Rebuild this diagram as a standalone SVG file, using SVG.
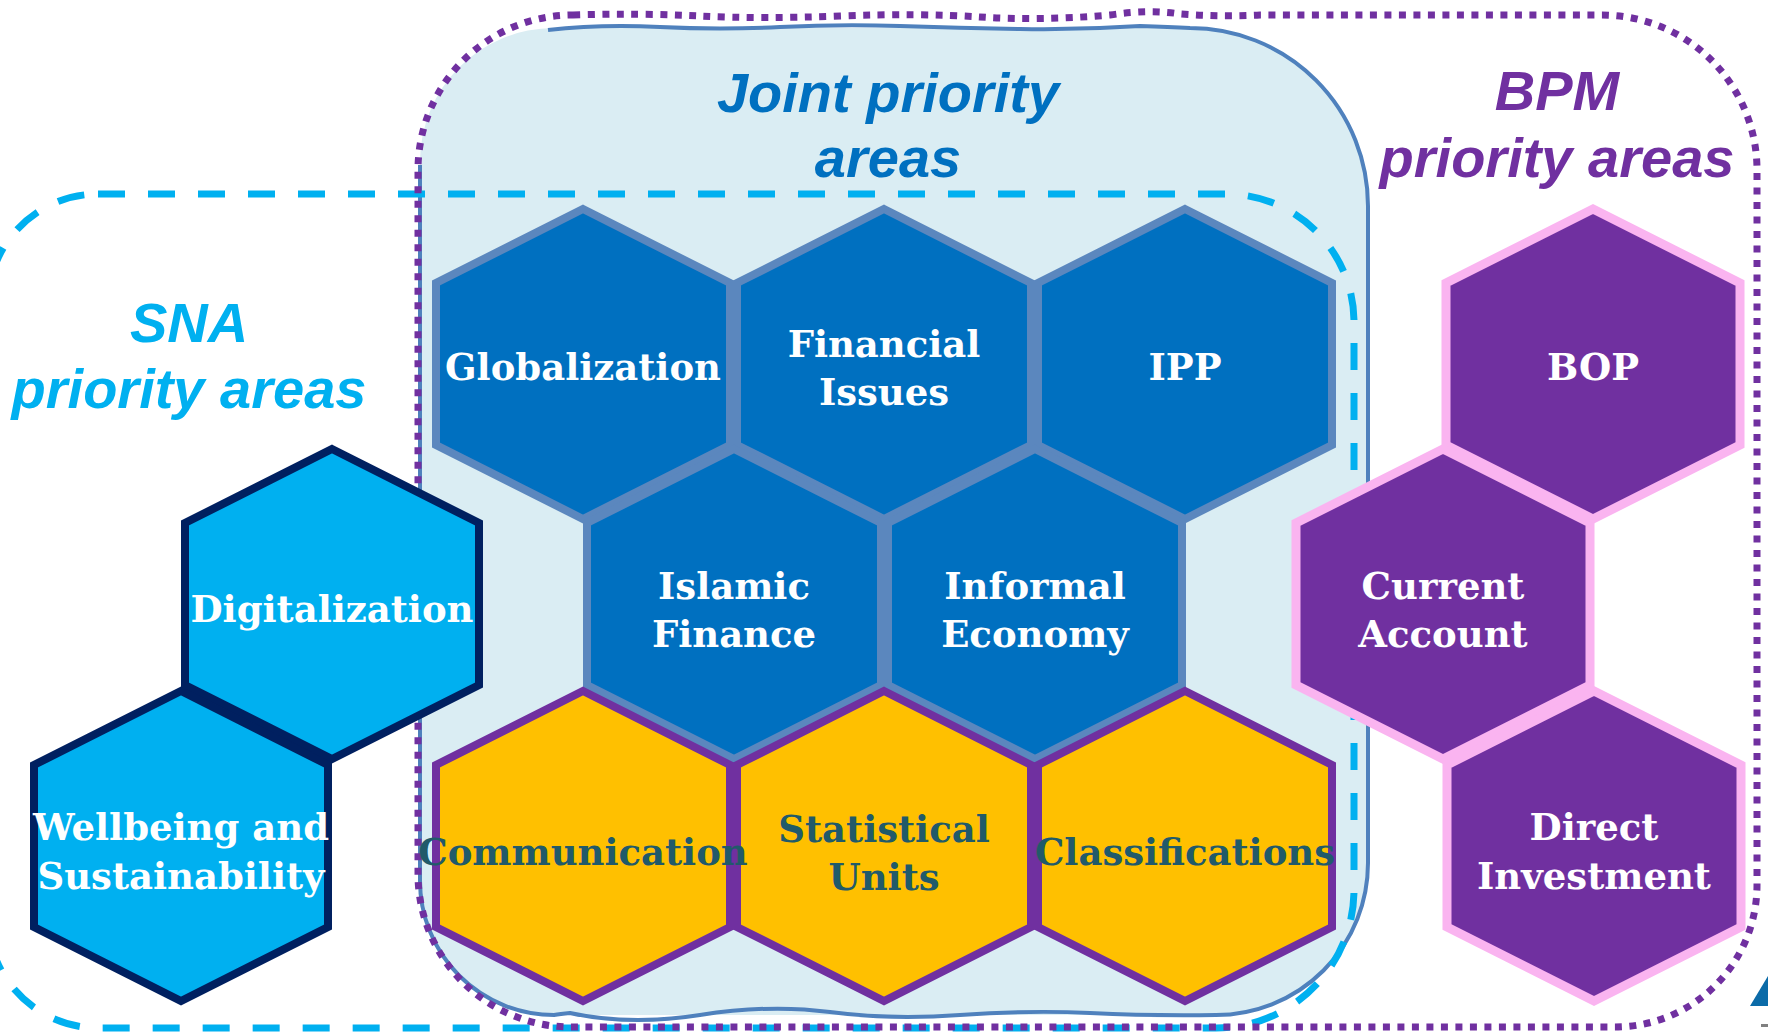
<svg xmlns="http://www.w3.org/2000/svg" xmlns:xlink="http://www.w3.org/1999/xlink" width="1768" height="1034" viewBox="0 0 1768 1034">
  <style>
    .title { font-family: "Liberation Sans", Arial, sans-serif; font-weight: bold; font-style: italic; font-size: 56px; text-anchor: middle; }
    .t-joint { fill: #0070C0; }
    .t-sna { fill: #00B0F0; }
    .t-bpm { fill: #7030A0; }
    .lbl { font-family: "DejaVu Serif", "Liberation Serif", serif; font-weight: bold; font-size: 37px; text-anchor: middle; fill: #FFFFFF; }
    .lbl-dark { fill: #215A6A; }
    .hx { stroke-linejoin: miter; }
    .h-joint { fill: #0070C0; stroke: #5B87BE; stroke-width: 8; }
    .h-yellow { fill: #FFC000; stroke: #7030A0; stroke-width: 8; }
    .h-sna { fill: #00B0F0; stroke: #002060; stroke-width: 8; }
    .h-bpm { fill: #7030A0; stroke: #FAB4F0; stroke-width: 9; }
  </style>
  <defs>
    <polygon id="hex" points="0,-155 147,-81 147,81 0,155 -147,81 -147,-81"/>
  </defs>

  <rect x="0" y="0" width="1768" height="1034" fill="#FFFFFF"/>

  <!-- Region outlines -->
  <g id="regions">
    <g id="joint-region">
      <path d="M 554,28 H 1190 A 178 178 0 0 1 1368,206 V 863 A 152 152 0 0 1 1216,1015 H 554 A 134 134 0 0 1 420,881 V 162 A 134 134 0 0 1 554,28 Z" fill="#DAEDF3"/>
      <path d="M 548,30 Q 600,24 660,27 T 780,27 T 900,26 T 1020,29 T 1140,26 Q 1170,27 1190,28 A 178 178 0 0 1 1368,206 V 863 A 152 152 0 0 1 1216,1015 Q 1150,1016 1090,1013 T 960,1015 T 830,1012 T 700,1015 T 570,1013 Q 560,1014 554,1015 A 134 134 0 0 1 420,881 V 165" fill="none" stroke="#4F81BD" stroke-width="4"/>
    </g>
    <path id="sna-region" d="M 98,194 H 1226 A 128 128 0 0 1 1354,322 V 890 A 138 138 0 0 1 1216,1028 H 98 A 110 110 0 0 1 -12,918 V 304 A 110 110 0 0 1 98,194 Z" fill="none" stroke="#00B0F0" stroke-width="7" stroke-dasharray="27 23"/>
    <path id="bpm-region" d="M 573,15 Q 640,13 700,16 T 840,16 T 980,17 T 1110,15 Q 1150,9 1180,14 Q 1220,17 1260,15 H 1602 A 155 155 0 0 1 1757,170 V 885 A 142 142 0 0 1 1615,1027 H 571 A 153 153 0 0 1 418,874 V 170 A 155 155 0 0 1 573,15 Z" fill="none" stroke="#7030A0" stroke-width="7" stroke-dasharray="7 7.5"/>
  </g>

  <g id="connectors"></g>

  <!-- Joint hexagons -->
  <g id="globalization"><use xlink:href="#hex" href="#hex" x="583" y="364" class="hx h-joint"/><text class="lbl" x="583" y="380">Globalization</text></g>
  <g id="financial-issues"><use xlink:href="#hex" href="#hex" x="884" y="364" class="hx h-joint"/><text class="lbl" x="884" y="357">Financial</text><text class="lbl" x="884" y="405">Issues</text></g>
  <g id="ipp"><use xlink:href="#hex" href="#hex" x="1185" y="364" class="hx h-joint"/><text class="lbl" x="1185" y="380">IPP</text></g>
  <g id="islamic-finance"><use xlink:href="#hex" href="#hex" x="734" y="604" class="hx h-joint"/><text class="lbl" x="734" y="599">Islamic</text><text class="lbl" x="734" y="647">Finance</text></g>
  <g id="informal-economy"><use xlink:href="#hex" href="#hex" x="1035" y="604" class="hx h-joint"/><text class="lbl" x="1035" y="599">Informal</text><text class="lbl" x="1035" y="647">Economy</text></g>

  <!-- Yellow hexagons -->
  <g id="statistical-units"><use xlink:href="#hex" href="#hex" x="884" y="846" class="hx h-yellow"/><text class="lbl lbl-dark" x="884" y="842">Statistical</text><text class="lbl lbl-dark" x="884" y="890">Units</text></g>
  <g id="classifications"><use xlink:href="#hex" href="#hex" x="1185" y="846" class="hx h-yellow"/><text class="lbl lbl-dark" x="1185" y="865">Classifications</text></g>
  <g id="communication"><use xlink:href="#hex" href="#hex" x="583" y="846" class="hx h-yellow"/><text class="lbl lbl-dark" x="583" y="865">Communication</text></g>

  <!-- SNA hexagons -->
  <g id="digitalization"><use xlink:href="#hex" href="#hex" x="332" y="604" class="hx h-sna"/><text class="lbl" x="332" y="622">Digitalization</text></g>
  <g id="wellbeing"><use xlink:href="#hex" href="#hex" x="181" y="846" class="hx h-sna"/><text class="lbl" x="181" y="840">Wellbeing and</text><text class="lbl" x="181" y="889">Sustainability</text></g>

  <!-- BPM hexagons -->
  <g id="bop"><use xlink:href="#hex" href="#hex" x="1593" y="364" class="hx h-bpm"/><text class="lbl" x="1593" y="380">BOP</text></g>
  <g id="current-account"><use xlink:href="#hex" href="#hex" x="1443" y="604" class="hx h-bpm"/><text class="lbl" x="1443" y="599">Current</text><text class="lbl" x="1443" y="647">Account</text></g>
  <g id="direct-investment"><use xlink:href="#hex" href="#hex" x="1594" y="846" class="hx h-bpm"/><text class="lbl" x="1594" y="840">Direct</text><text class="lbl" x="1594" y="889">Investment</text></g>

  <!-- Titles -->
  <g id="titles">
    <text class="title t-joint" x="888" y="112">Joint priority</text>
    <text class="title t-joint" x="888" y="177">areas</text>
    <text class="title t-sna" x="189" y="342">SNA</text>
    <text class="title t-sna" x="189" y="408">priority areas</text>
    <text class="title t-bpm" x="1557" y="110">BPM</text>
    <text class="title t-bpm" x="1557" y="177">priority areas</text>
  </g>

  <!-- Corner fragments -->
  <polygon points="1750,1006 1768,976 1768,1006" fill="#0B6BA8"/>
  <rect x="1761" y="1024" width="7" height="3" fill="#808080"/>
</svg>
